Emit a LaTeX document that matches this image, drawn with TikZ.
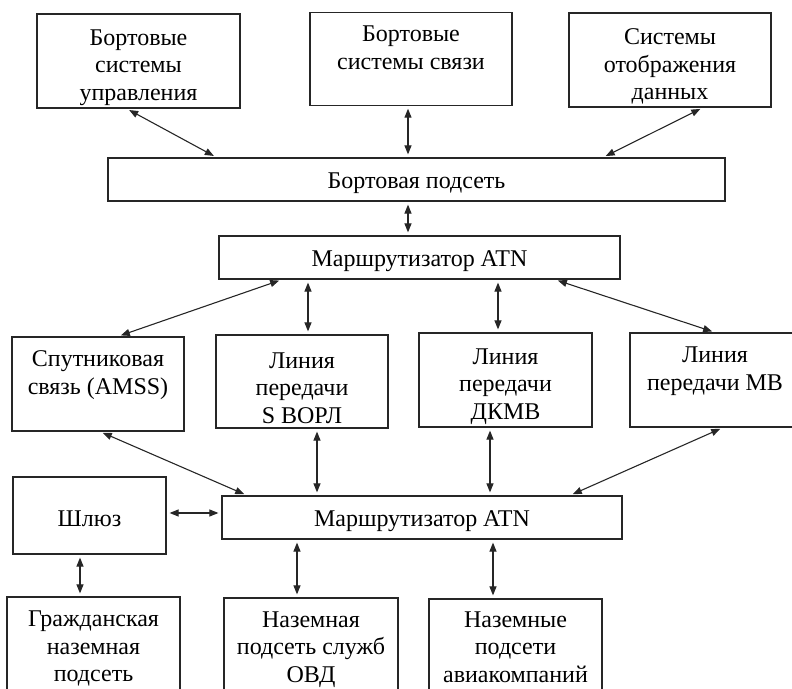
\documentclass[tikz,border=0pt]{standalone}
\usepackage{fontspec}
\setmainfont{Liberation Serif}
\usetikzlibrary{arrows.meta}
\newcommand{\vverh}{\rule{0pt}{29pt}}
\newcommand{\vodin}{\rule{0pt}{23pt}}

\begin{document}
\begin{tikzpicture}[x=1pt,y=1pt,
  blok/.style={draw=black!85,line width=1.2pt,align=center,inner sep=0pt,text=black,
    font=\fontsize{24}{27.5}\selectfont},
  svz/.style={black!85,line width=1.1pt,
    {Triangle[length=9pt,width=7pt]}-{Triangle[length=9pt,width=7pt]},
    shorten <=3pt,shorten >=3pt}]
  \useasboundingbox (0,0) rectangle (792,688);
  \clip (0,0) rectangle (792,688);

  % bortovye sistemy
  \node[blok,minimum width=203pt,minimum height=94pt] (upr) at (138.5,627) {\vverh Бортовые\\системы\\управления};
  \node[blok,minimum width=202pt,minimum height=90pt] (svyaz) at (411,629) {\vverh Бортовые\\системы связи\\\strut};
  \node[blok,minimum width=202pt,minimum height=94pt] (otobr) at (670,628) {\vverh Системы\\отображения\\данных};
  \node[blok,minimum width=617pt,minimum height=43pt] (podset) at (416.5,508.5) {\vodin Бортовая подсеть};
  \node[blok,minimum width=401pt,minimum height=43pt] (marsh1) at (419.5,430.5) {\vodin Маршрутизатор ATN};

  % linii peredachi
  \node[blok,minimum width=172pt,minimum height=94pt] (amss) at (98,304) {\vverh Спутниковая\\связь (AMSS)\\\strut};
  \node[blok,minimum width=172pt,minimum height=93pt] (vorl) at (302,306.5) {\vverh Линия\\передачи\\S ВОРЛ};
  \node[blok,minimum width=173pt,minimum height=94pt] (dkmv) at (505.5,308) {\vverh Линия\\передачи\\ДКМВ};
  \node[blok,minimum width=170pt,minimum height=94pt] (mv) at (715,308) {\vverh Линия\\передачи МВ\\\strut};

  % nazemnaya chast
  \node[blok,minimum width=400pt,minimum height=43pt] (marsh2) at (422,170.5) {\vodin Маршрутизатор ATN};
  \node[blok,minimum width=153pt,minimum height=77pt] (shluz) at (89.5,172.5) {\vodin Шлюз};
  \node[blok,minimum width=173pt,minimum height=96pt] (grazhd) at (93.5,43) {\vodin Гражданская\\наземная\\подсеть};
  \node[blok,minimum width=174pt,minimum height=96pt] (ovd) at (311,42) {\vodin Наземная\\подсеть служб\\ОВД};
  \node[blok,minimum width=173pt,minimum height=96pt] (avia) at (515.5,41) {Наземные\\подсети\\авиакомпаний};

  % svyazi
  \draw[svz] ([xshift=-12pt]upr.south) -- ([xshift=-200pt]podset.north);
  \draw[svz] ([xshift=-3pt]svyaz.south) -- ([xshift=-3pt]svyaz.south |- podset.north);
  \draw[svz] ([xshift=33pt]otobr.south) -- ([xshift=186.5pt]podset.north);
  \draw[svz] ([xshift=-8.5pt]podset.south) -- ([xshift=-8.5pt]podset.south |- marsh1.north);
  \draw[svz] ([xshift=-137.5pt]marsh1.south) -- ([xshift=20pt]amss.north);
  \draw[svz] ([xshift=6pt]marsh1.south -| vorl.north) -- ([xshift=6pt]vorl.north);
  \draw[svz] ([xshift=-7.5pt]marsh1.south -| dkmv.north) -- ([xshift=-7.5pt]dkmv.north);
  \draw[svz] ([xshift=135.5pt]marsh1.south) -- (mv.north);
  \draw[svz] ([xshift=2pt]amss.south) -- ([xshift=-175pt]marsh2.north);
  \draw[svz] ([xshift=15pt]vorl.south) -- ([xshift=15pt]vorl.south |- marsh2.north);
  \draw[svz] ([xshift=-15.5pt]dkmv.south) -- ([xshift=-15.5pt]dkmv.south |- marsh2.north);
  \draw[svz] ([xshift=8pt]mv.south) -- ([xshift=148pt]marsh2.north);
  \draw[svz] ([yshift=2.5pt]shluz.east) -- ([yshift=2.5pt]shluz.east -| marsh2.west);
  \draw[svz] ([xshift=-9.5pt]shluz.south) -- ([xshift=-9.5pt]shluz.south |- grazhd.north);
  \draw[svz] ([xshift=-14pt]marsh2.south -| ovd.north) -- ([xshift=-14pt]ovd.north);
  \draw[svz] ([xshift=-22.5pt]marsh2.south -| avia.north) -- ([xshift=-22.5pt]avia.north);
\end{tikzpicture}
\end{document}
